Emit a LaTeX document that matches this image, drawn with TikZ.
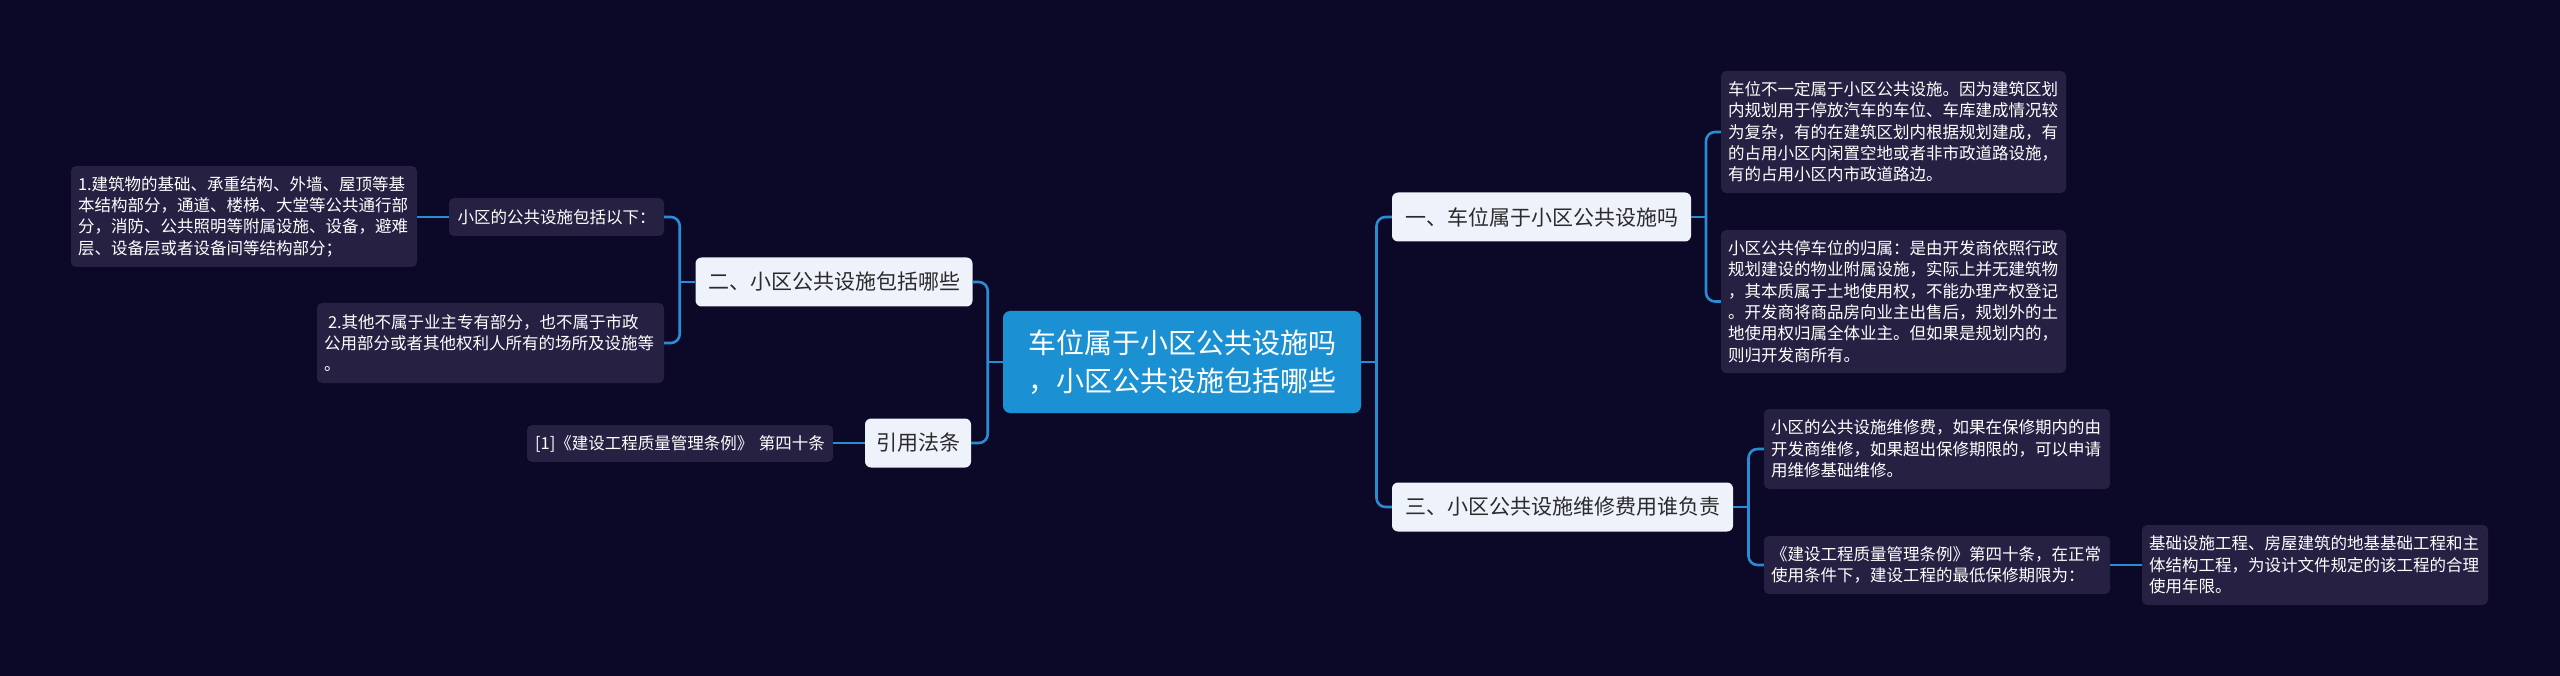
\documentclass[tikz,border=0pt]{standalone}
\usepackage{fontspec}
\newfontfamily\cjk{Noto Sans CJK SC}
\usetikzlibrary{calc}
\definecolor{bgc}{HTML}{0B0828}
\definecolor{leafc}{HTML}{262143}
\definecolor{rootc}{HTML}{1B90D3}
\definecolor{linec}{HTML}{2A8DD4}
\definecolor{lvlc}{HTML}{EEF2FA}
\definecolor{lvltext}{HTML}{2B2B2B}
\tikzset{
  leafbox/.style={fill=leafc, text=white, rounded corners=5pt, inner xsep=7pt, inner ysep=2pt,
    align=left, font=\cjk\fontsize{16.5}{21.3}\selectfont},
  lvlbox/.style={fill=lvlc, text=lvltext, rounded corners=6pt, inner xsep=4pt, inner ysep=2pt,
    minimum height=49pt, align=center, font=\cjk\fontsize{21}{26}\selectfont},
  rootbox/.style={fill=rootc, text=white, rounded corners=7pt, minimum width=358pt,
    minimum height=102pt, align=center, font=\cjk\fontsize{28}{38}\selectfont},
  conn/.style={draw=linec, line width=2.6pt, rounded corners=9pt}
}
\begin{document}
\begin{tikzpicture}[x=1pt,y=-1pt]
\fill[bgc] (0,0) rectangle (2560,676);
\useasboundingbox (0,0) rectangle (2560,676);

% root
\node[rootbox] (root) at (1182,362) {车位属于小区公共设施吗\\，小区公共设施包括哪些};

% level 1
\node[lvlbox, minimum width=299pt] (n1) at (1541.5,217) {一、车位属于小区公共设施吗};
\node[lvlbox, minimum width=341pt] (n3) at (1562.5,507) {三、小区公共设施维修费用谁负责};
\node[lvlbox, minimum width=277pt] (n2) at (834,282) {二、小区公共设施包括哪些};
\node[lvlbox, minimum width=106pt] (ref) at (918,443) {引用法条};

% left leaves
\node[leafbox, text width=201pt, minimum height=38pt, align=center] (sub) at (556.5,217) {小区的公共设施包括以下：};
\node[leafbox, text width=332pt, minimum height=101pt] (b1) at (244,216.5) {1.建筑物的基础、承重结构、外墙、屋顶等基\\本结构部分，通道、楼梯、大堂等公共通行部\\分，消防、公共照明等附属设施、设备，避难\\层、设备层或者设备间等结构部分；};
\node[leafbox, text width=333pt, minimum height=80pt] (b2) at (490.5,343) {\hspace{4pt}2.其他不属于业主专有部分，也不属于市政\\公用部分或者其他权利人所有的场所及设施等\\。};
\node[leafbox, text width=292pt, minimum height=37pt, align=center] (cite) at (680,443.5) {[1]《建设工程质量管理条例》 第四十条};

% right leaves
\node[leafbox, text width=331pt, minimum height=122pt] (ba) at (1893.5,132) {车位不一定属于小区公共设施。因为建筑区划\\内规划用于停放汽车的车位、车库建成情况较\\为复杂，有的在建筑区划内根据规划建成，有\\的占用小区内闲置空地或者非市政道路设施，\\有的占用小区内市政道路边。};
\node[leafbox, text width=331pt, minimum height=143pt] (bb) at (1893.5,301.5) {小区公共停车位的归属：是由开发商依照行政\\规划建设的物业附属设施，实际上并无建筑物\\，其本质属于土地使用权，不能办理产权登记\\。开发商将商品房向业主出售后，规划外的土\\地使用权归属全体业主。但如果是规划内的，\\则归开发商所有。};
\node[leafbox, text width=332pt, minimum height=80pt] (bc) at (1937,449) {小区的公共设施维修费，如果在保修期内的由\\开发商维修，如果超出保修期限的，可以申请\\用维修基础维修。};
\node[leafbox, text width=332pt, minimum height=58pt] (bd) at (1937,565) {《建设工程质量管理条例》第四十条，在正常\\使用条件下，建设工程的最低保修期限为：};
\node[leafbox, text width=332pt, minimum height=80pt] (be) at (2315,565) {基础设施工程、房屋建筑的地基基础工程和主\\体结构工程，为设计文件规定的该工程的合理\\使用年限。};

% junctions
\coordinate (jr) at ($(root.east)!0.5!(root.east -| n1.west)$);
\coordinate (jl) at ($(root.west)!0.5!(root.west -| n2.east)$);
\coordinate (j2) at ($(n2.west)!0.5!(n2.west -| sub.east)$);
\coordinate (j1) at ($(n1.east)!0.5!(n1.east -| ba.west)$);
\coordinate (j3) at ($(n3.east)!0.5!(n3.east -| bc.west)$);

% connectors
\draw[conn] (root.east) -- (jr);
\draw[conn] (jr) |- (n1.west);
\draw[conn] (jr) |- (n3.west);
\draw[conn] (root.west) -- (jl);
\draw[conn] (jl) |- (n2.east);
\draw[conn] (jl) |- (ref.east);
\draw[conn] (n2.west) -- (j2);
\draw[conn] (j2) |- (sub.east);
\draw[conn] (j2) |- (b2.east);
\draw[conn] (sub.west) -- (sub.west -| b1.east);
\draw[conn] (ref.west) -- (ref.west -| cite.east);
\draw[conn] (n1.east) -- (j1);
\draw[conn] (j1) |- (ba.west);
\draw[conn] (j1) |- (bb.west);
\draw[conn] (n3.east) -- (j3);
\draw[conn] (j3) |- (bc.west);
\draw[conn] (j3) |- (bd.west);
\draw[conn] (bd.east) -- (bd.east -| be.west);
\end{tikzpicture}
\end{document}
